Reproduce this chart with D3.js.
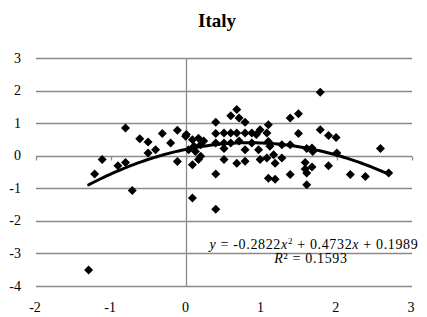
<!DOCTYPE html>
<html>
<head>
<meta charset="utf-8">
<script src="https://cdn.jsdelivr.net/npm/d3@7"></script>
<style>
  html, body { margin: 0; padding: 0; background: #fff; }
  svg { display: block; }
  text { font-family: 'Liberation Serif', 'Times New Roman', 'DejaVu Serif', serif; }
</style>
</head>
<body>
<div id="chart"></div>
<script>
const chartTitle = "Italy";
const xTicks = [-2, -1, 0, 1, 2, 3];
const yTicks = [-4, -3, -2, -1, 0, 1, 2, 3];

const xValues = [
  -1.30, -1.22, -1.12, -0.91, -0.81, -0.81, -0.72, -0.62, -0.51, -0.51,
  -0.41, -0.32, -0.21, -0.12, -0.12, -0.01,
  0.00, 0.08, 0.16, 0.10, 0.19, 0.03, 0.12, 0.19, 0.08, 0.16,
  0.08, 0.39, 0.39, 0.39, 0.39, 0.50, 0.39, 0.50, 0.50, 0.50,
  0.59, 0.67, 0.70, 0.78, 0.59, 0.67, 0.78, 0.87, 0.59, 0.78,
  0.67, 0.78, 0.87,
  0.98, 1.09, 1.07, 0.93, 0.96, 1.09, 1.11, 0.98, 1.07, 1.16,
  1.18, 1.27, 1.38, 1.27, 1.67, 1.09, 1.18, 1.38, 1.58, 1.58,
  1.67, 1.60, 1.89, 1.78, 1.38, 1.49, 1.49, 1.78, 1.89, 1.99,
  2.58, 1.60, 1.68, 2.00, 2.18, 2.38, 2.69, 1.60, 0.70, 0.23
];
const yValues = [
  -3.51, -0.56, -0.12, -0.31, -0.21, 0.85, -1.07, 0.52, 0.42, 0.08,
  0.18, 0.68, 0.39, 0.78, -0.18, 0.60,
  0.65, 0.49, 0.54, 0.29, 0.34, 0.18, 0.13, -0.02, -0.28, -0.12,
  -1.30, -1.64, -0.56, 1.03, 0.68, 0.70, 0.39, 0.39, 0.22, -0.12,
  1.23, 1.42, 1.16, 1.03, 0.70, 0.70, 0.70, 0.70, 0.39, 0.18,
  -0.23, -0.17, 0.39,
  0.80, 0.95, 0.70, 0.65, 0.18, 0.44, 0.29, -0.12, -0.07, 0.03,
  -0.23, -0.07, 0.34, 0.34, 0.24, -0.69, -0.72, -0.58, -0.21, -0.41,
  -0.35, -0.89, -0.31, 1.95, 1.16, 1.29, 0.68, 0.80, 0.62, 0.56,
  0.22, 0.22, 0.13, 0.08, -0.58, -0.64, -0.53, -0.53, 0.45, 0.45
];

const trendCoef = [-0.2822, 0.4732, 0.1989]; // a, b, c

const W = 427, H = 317;
const FONT = "'Liberation Serif', 'Times New Roman', 'DejaVu Serif', serif";
const svg = d3.select("#chart").append("svg").attr("width", W).attr("height", H)
  .attr("font-family", FONT);

const x = d3.scaleLinear().domain([-2, 3]).range([36, 412]);
const y = d3.scaleLinear().domain([-4, 3]).range([286, 58]);

const grid = "#8a8a8a";

// title
svg.append("text").attr("x", 217).attr("y", 27).attr("text-anchor", "middle")
  .attr("font-family", FONT)
  .attr("font-size", 19).attr("font-weight", "bold").text(chartTitle);

// horizontal gridlines
svg.append("g").selectAll("line").data(yTicks).join("line")
  .attr("x1", x(-2)).attr("x2", x(3))
  .attr("y1", d => Math.round(y(d)) + 0.5).attr("y2", d => Math.round(y(d)) + 0.5)
  .attr("stroke", grid).attr("stroke-width", 1.3);

// vertical axis line at x=0
svg.append("line").attr("x1", Math.round(x(0)) + 0.5).attr("x2", Math.round(x(0)) + 0.5)
  .attr("y1", y(3)).attr("y2", y(-4)).attr("stroke", grid).attr("stroke-width", 1.3);

// x axis tick marks at y=0
const y0 = Math.round(y(0)) + 0.5;
svg.append("g").selectAll("line").data(xTicks).join("line")
  .attr("x1", d => Math.round(x(d)) + 0.5).attr("x2", d => Math.round(x(d)) + 0.5)
  .attr("y1", y0).attr("y2", y0 + 4).attr("stroke", grid).attr("stroke-width", 1.3);

// y tick labels
svg.append("g").selectAll("text").data(yTicks).join("text")
  .attr("x", 21).attr("y", d => y(d) + 4.5).attr("text-anchor", "end")
  .attr("font-family", FONT)
  .attr("font-size", 14).attr("fill", "#000").text(d => d);

// x tick labels
svg.append("g").selectAll("text").data(xTicks).join("text")
  .attr("x", d => x(d) - 1).attr("y", 312).attr("text-anchor", "middle")
  .attr("font-family", FONT)
  .attr("font-size", 14).attr("fill", "#000").text(d => d);

// points
const pts = xValues.map((v, i) => [v, yValues[i]]);
const r = 4.5;
svg.append("g").selectAll("path").data(pts).join("path")
  .attr("transform", d => `translate(${x(d[0])},${y(d[1])})`)
  .attr("d", `M0,${-r}L${r},0L0,${r}L${-r},0Z`)
  .attr("fill", "#000");

// trendline
const [a, b, c] = trendCoef;
const xmin = d3.min(xValues), xmax = d3.max(xValues);
const samples = d3.range(0, 101).map(i => xmin + (xmax - xmin) * i / 100);
svg.append("path")
  .attr("d", d3.line().x(d => x(d)).y(d => y(a * d * d + b * d + c))(samples))
  .attr("fill", "none").attr("stroke", "#000").attr("stroke-width", 3)
  .attr("stroke-linecap", "round");

// equation
const eq = svg.append("text").attr("x", 314).attr("y", 249).attr("text-anchor", "middle")
  .attr("font-family", FONT).attr("letter-spacing", 0.65)
  .attr("font-size", 14).attr("fill", "#000");
eq.append("tspan").attr("font-style", "italic").text("y");
eq.append("tspan").text(" = -0.2822");
eq.append("tspan").attr("font-style", "italic").text("x");
eq.append("tspan").attr("font-size", 9).attr("dy", -5).text("2");
eq.append("tspan").attr("dy", 5).text(" + 0.4732");
eq.append("tspan").attr("font-style", "italic").text("x");
eq.append("tspan").text(" + 0.1989");

const r2 = svg.append("text").attr("x", 311).attr("y", 263).attr("text-anchor", "middle")
  .attr("font-family", FONT).attr("letter-spacing", 0.65)
  .attr("font-size", 14).attr("fill", "#000");
r2.append("tspan").attr("font-style", "italic").text("R");
r2.append("tspan").text("² = 0.1593");
</script>
</body>
</html>
